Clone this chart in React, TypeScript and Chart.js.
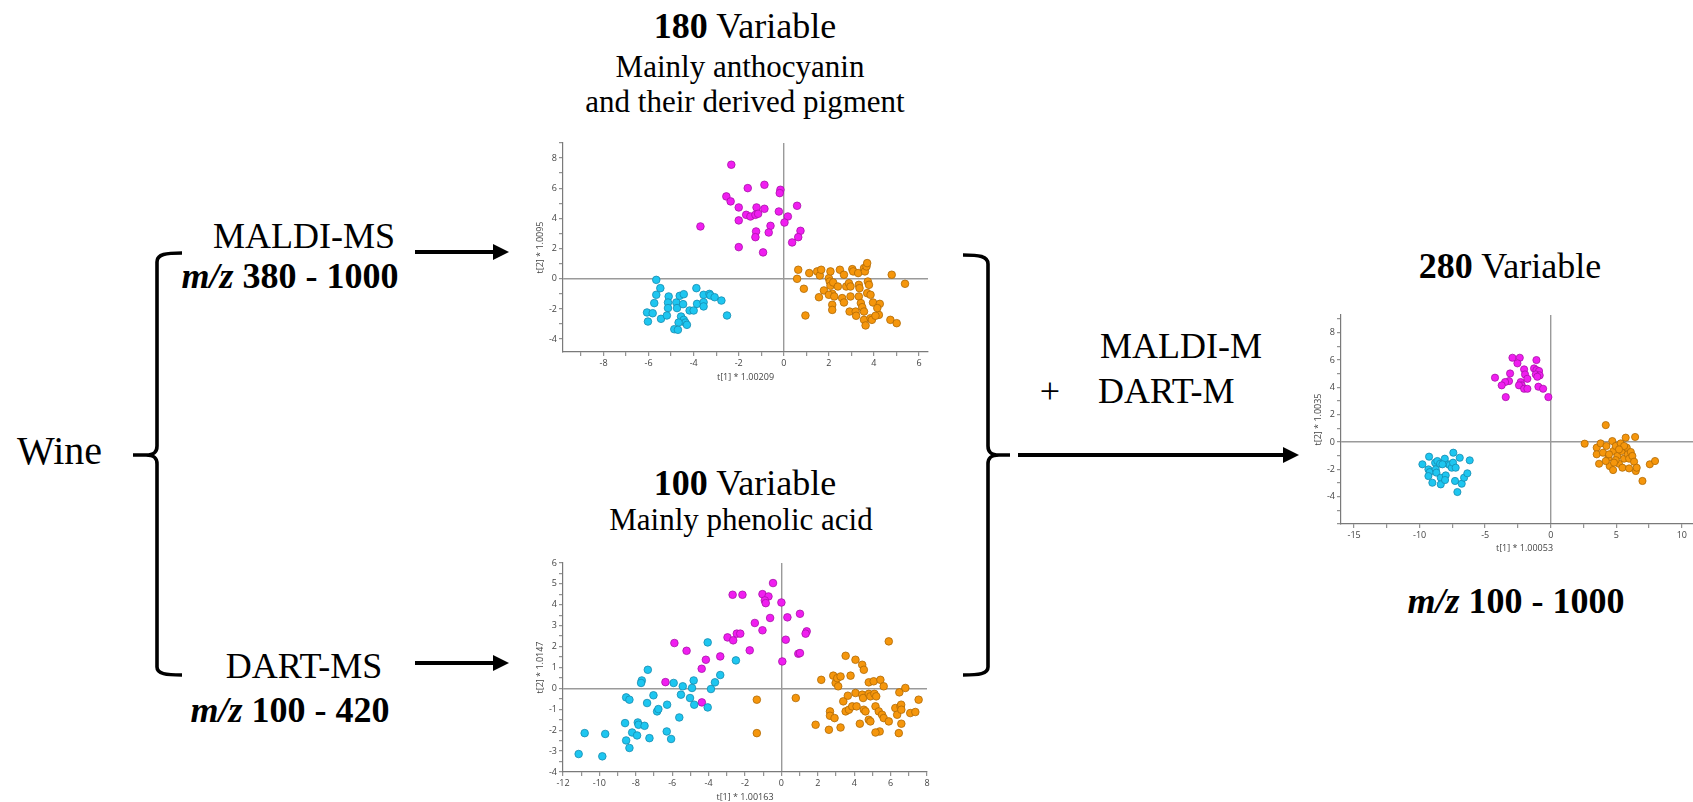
import React, { useEffect, useRef } from 'react';
import { Chart, registerables } from 'chart.js';

Chart.register(...registerables);

type Pt = [number, number];

// ---- MALDI-MS score plot (180 variables) ----
const maldiCyan: Pt[] = [
  [-5.66, -0.07], [-5.48, -0.62], [-5.66, -1.06], [-5.75, -1.61], [-6.07, -2.23], [-5.82, -2.28],
  [-6.03, -2.83], [-5.45, -2.65], [-5.11, -1.17], [-5.14, -1.57], [-5.14, -1.94], [-5.19, -2.43],
  [-4.77, -1.57], [-4.74, -1.94], [-4.62, -1.13], [-4.44, -1.02], [-4.47, -1.68], [-4.56, -2.5],
  [-4.44, -2.72], [-4.37, -2.9], [-4.3, -3.05], [-4.67, -2.9], [-4.86, -3.34], [-4.7, -3.38],
  [-4.18, -2.1], [-4.0, -2.1], [-3.88, -0.62], [-3.85, -1.66], [-3.56, -1.06], [-3.56, -1.55],
  [-3.56, -1.83], [-3.3, -1.0], [-3.26, -1.1], [-3.07, -1.22], [-2.77, -1.44], [-2.52, -2.43],
];
const maldiMagenta: Pt[] = [
  [-2.33, 7.56], [-2.55, 5.46], [-2.36, 5.13], [-1.6, 6.01], [-0.86, 6.23], [-0.15, 5.9],
  [-0.18, 5.68], [-2.0, 4.73], [-1.21, 4.73], [-0.86, 4.64], [-0.22, 4.46], [0.59, 4.84],
  [-1.67, 4.24], [-1.48, 4.13], [-1.26, 4.24], [-1.14, 4.31], [-2.0, 3.87], [0.18, 4.13],
  [0.03, 3.73], [-0.59, 3.51], [-1.23, 3.14], [-1.26, 2.76], [-0.67, 3.07], [0.74, 3.18],
  [0.64, 2.76], [0.37, 2.41], [-2.0, 2.1], [-0.92, 1.75], [-3.7, 3.47],
];
const maldiOrange: Pt[] = [
  [0.64, 0.6], [0.59, 0.0], [0.89, -0.66], [0.96, -2.43], [1.13, 0.38], [1.48, 0.49],
  [1.6, 0.22], [1.66, 0.6], [1.56, -1.22], [1.78, -0.77], [2.0, 0.04], [2.07, 0.49],
  [2.04, -0.18], [2.07, -0.46], [2.19, -0.24], [2.15, -0.99], [2.0, -1.06], [2.24, -1.17],
  [2.15, -1.72], [2.15, -2.06], [2.49, 0.6], [2.67, 0.27], [2.4, -0.51], [2.77, -0.51],
  [2.59, -1.28], [2.67, -1.57], [2.89, -0.29], [2.96, -0.51], [2.96, -1.17], [2.92, -2.17],
  [3.04, 0.64], [3.08, 0.49], [3.19, -2.17], [3.21, -2.45], [3.3, 0.38], [3.33, -0.4],
  [3.36, -0.62], [3.33, -1.17], [3.42, -1.61], [3.48, -1.88], [3.56, 0.71], [3.6, 0.49],
  [3.67, 0.82], [3.7, 1.04], [3.73, -0.18], [3.7, -0.95], [3.85, -1.06], [3.96, -1.57],
  [3.56, -2.17], [3.56, -2.72], [3.63, -3.09], [3.85, -2.61], [3.91, -2.72], [4.22, -2.39],
  [4.26, -1.66], [4.15, -1.94], [4.07, -2.45], [3.78, -0.4], [4.73, -2.72], [4.79, 0.27],
  [5.01, -2.94], [5.38, -0.33],
];
const maldiXLabels = [-8, -6, -4, -2, 0, 2, 4, 6];
const maldiYLabels = [-4, -2, 0, 2, 4, 6, 8];

// ---- DART-MS score plot (100 variables) ----
const dartCyan: Pt[] = [
  [-11.14, -3.14], [-9.84, -3.25], [-10.81, -2.14], [-9.68, -2.18], [-8.35, -2.85], [-8.53, -2.49],
  [-8.2, -2.11], [-7.93, -2.25], [-8.59, -1.66], [-7.89, -1.63], [-7.85, -1.74], [-7.52, -1.79],
  [-7.25, -2.38], [-8.53, -0.43], [-8.35, -0.54], [-7.67, 0.38], [-7.71, 0.26], [-7.34, 0.89],
  [-7.38, -0.7], [-7.03, -0.33], [-6.83, -1.1], [-6.76, -0.99], [-6.28, -0.78], [-6.3, -2.06],
  [-6.06, -2.42], [-5.92, 0.26], [-5.42, 0.1], [-5.52, -0.3], [-5.61, -1.39], [-5.02, -0.46],
  [-4.91, 0.02], [-4.82, 0.38], [-4.79, -0.78], [-4.05, 2.2], [-4.05, -0.91], [-3.87, -0.03],
  [-3.65, 0.29], [-3.36, 0.64], [-2.5, 1.34],
];
const dartMagenta: Pt[] = [
  [-0.46, 5.04], [-2.68, 4.48], [-2.14, 4.48], [-1.04, 4.51], [-0.71, 4.4], [-0.91, 4.21],
  [-0.86, 4.08], [0.0, 4.11], [-0.62, 3.37], [-1.46, 3.13], [0.33, 3.4], [1.02, 3.57],
  [-1.04, 2.78], [1.39, 2.73], [1.33, 2.62], [-2.96, 2.44], [-2.65, 2.3], [-2.45, 2.62],
  [-2.26, 2.62], [0.24, 2.33], [-1.74, 1.82], [-5.88, 2.17], [-5.21, 1.8], [-3.36, 1.53],
  [-4.15, 1.37], [-4.38, 0.94], [0.93, 1.66], [1.02, 1.69], [0.05, 1.29], [-6.37, 0.3],
  [-4.37, -0.67],
];
const dartOrange: Pt[] = [
  [-1.35, -0.54], [-1.35, -2.14], [0.79, -0.46], [1.88, -1.74], [2.19, 0.41], [2.61, -1.98],
  [2.67, -1.1], [2.67, -1.31], [2.85, 0.61], [2.92, -1.42], [2.98, 0.26], [3.07, 0.49],
  [3.12, 0.1], [3.25, 0.57], [3.25, -1.87], [3.4, -0.62], [3.53, 1.56], [3.53, -1.1],
  [3.65, -0.35], [3.71, -1.02], [3.8, 0.61], [3.89, -0.86], [4.07, 1.37], [4.07, -0.22],
  [4.13, -0.86], [4.31, -1.69], [4.44, 1.13], [4.44, -0.3], [4.49, -0.46], [4.53, 0.89],
  [4.53, -1.02], [4.62, -1.1], [4.8, 0.29], [4.8, -0.26], [4.89, -0.38], [4.8, -1.5],
  [4.89, -1.58], [5.07, 0.34], [5.11, -0.26], [5.21, -0.38], [5.17, -0.86], [5.35, -1.1],
  [5.4, -2.06], [5.17, -2.11], [5.44, 0.41], [5.53, -1.26], [5.62, 0.1], [5.62, -1.42],
  [5.9, -1.58], [5.9, 2.25], [6.26, -0.94], [6.36, -1.26], [6.45, -2.14], [6.48, -0.19],
  [6.54, -0.86], [6.58, -0.78], [6.59, -1.02], [6.59, -1.69], [6.81, 0.02], [7.08, -1.18],
  [7.36, -1.13], [7.54, -0.54],
];
const dartXLabels = [-12, -10, -8, -6, -4, -2, 0, 2, 4, 6, 8];
const dartYLabels = [-4, -3, -2, -1, 0, 1, 2, 3, 4, 5, 6];

// ---- Fused MALDI + DART score plot (280 variables) ----
const fusedCyan: Pt[] = [
  [-9.79, -1.63], [-9.28, -1.07], [-9.33, -2.0], [-9.23, -2.2], [-9.33, -2.49], [-9.03, -2.98],
  [-8.82, -1.51], [-8.77, -2.0], [-8.72, -2.24], [-8.65, -1.39], [-8.44, -1.59], [-8.39, -2.61],
  [-8.39, -3.1], [-8.08, -1.22], [-8.01, -2.44], [-8.06, -2.78], [-7.8, -1.63], [-7.7, -1.68],
  [-7.55, -1.88], [-7.45, -1.51], [-7.43, -0.78], [-7.25, -1.88], [-7.3, -2.85], [-7.12, -3.66],
  [-6.94, -1.15], [-6.79, -3.05], [-6.61, -2.61], [-6.36, -2.29], [-6.18, -1.34], [-8.26, -1.63],
];
const fusedMagenta: Pt[] = [
  [-2.92, 6.17], [-2.36, 6.17], [-2.54, 5.76], [-1.09, 6.0], [-2.03, 5.32], [-1.27, 5.39],
  [-1.09, 5.27], [-0.89, 5.2], [-1.96, 4.95], [-1.14, 4.95], [-0.84, 4.88], [-1.02, 4.78],
  [-3.1, 5.02], [-4.25, 4.71], [-3.18, 4.46], [-3.48, 4.39], [-3.74, 4.15], [-2.29, 4.39],
  [-2.21, 4.15], [-2.42, 4.15], [-1.78, 4.63], [-2.03, 3.9], [-1.78, 3.9], [-0.94, 4.05],
  [-0.58, 3.9], [-0.18, 3.29], [-3.43, 3.29],
];
const fusedOrange: Pt[] = [
  [2.59, -0.12], [4.2, 1.24], [3.51, -0.41], [3.51, -0.9], [3.69, -1.59], [3.81, -0.1],
  [3.99, -0.78], [4.25, -0.29], [4.4, -1.15], [4.5, -1.76], [4.7, 0.07], [4.78, -0.66],
  [4.76, -2.05], [4.96, -0.29], [5.09, -1.02], [5.21, -1.59], [5.34, -0.1], [5.42, -0.66],
  [5.47, -1.88], [5.6, -1.22], [5.72, 0.32], [5.8, -0.41], [5.88, -0.9], [5.98, -1.22],
  [6.11, -0.73], [6.23, -1.02], [5.98, -1.93], [6.36, -1.44], [6.44, 0.37], [6.49, -2.12],
  [6.56, -1.88], [7.0, -2.85], [7.56, -1.63], [7.96, -1.39], [4.96, -1.32], [4.45, -0.9],
  [5.6, -0.29], [5.21, -0.54], [4.83, -1.51], [4.2, -1.39],
];
const fusedXLabels = [-15, -10, -5, 0, 5, 10];
const fusedYLabels = [-4, -2, 0, 2, 4, 6, 8];

// Marker colours: fill and outline for the three wine groups
const GROUP_FILL = ['#1ec6f0', '#f01ef0', '#f5960c'];
const GROUP_EDGE = ['#168bb0', '#a812a8', '#b06a05'];

const SERIF = "'Liberation Serif', 'Times New Roman', serif";
const SANS = "'Open Sans', 'Noto Sans', sans-serif";

interface PlotSpec {
  left: number; top: number; width: number; height: number;
  padTop: number; padRight: number; yAxisWidth: number; xAxisHeight: number;
  xMin: number; xMax: number; yMin: number; yMax: number;
  xStep: number; yStep: number; xLabels: number[]; yLabels: number[];
  xTitle: string; yTitle: string; xTitlePad: number; yTitlePad: number;
  radius: number; groups: Pt[][];
}

function stepTicks(min: number, max: number, step: number) {
  const out: { value: number }[] = [];
  const start = Math.ceil(min / step - 1e-9);
  for (let i = start; i * step <= max + 1e-9; i++) {
    out.push({ value: Math.round(i * step * 1000) / 1000 });
  }
  return out;
}

function labelFor(labels: number[]) {
  return (value: number | string) => {
    const v = Number(value);
    return labels.some((l) => Math.abs(l - v) < 1e-6) ? String(v) : '';
  };
}

function axisOptions(spec: PlotSpec, horizontal: boolean) {
  const min = horizontal ? spec.xMin : spec.yMin;
  const max = horizontal ? spec.xMax : spec.yMax;
  const step = horizontal ? spec.xStep : spec.yStep;
  const labels = horizontal ? spec.xLabels : spec.yLabels;
  return {
    type: 'linear' as const,
    position: horizontal ? 'bottom' : 'left',
    min,
    max,
    afterBuildTicks: (scale: any) => {
      scale.ticks = stepTicks(min, max, step);
    },
    afterFit: (scale: any) => {
      if (horizontal) scale.height = spec.xAxisHeight;
      else scale.width = spec.yAxisWidth;
    },
    border: { display: true, color: '#7a7a7a', width: 1.2 },
    grid: {
      drawOnChartArea: true,
      drawTicks: true,
      tickLength: 4,
      tickColor: '#7a7a7a',
      tickWidth: 1,
      lineWidth: 1.4,
      color: (ctx: any) =>
        ctx.tick && Math.abs(ctx.tick.value) < 1e-9 ? '#9a9a9a' : 'rgba(0,0,0,0)',
    },
    ticks: {
      autoSkip: false,
      maxRotation: 0,
      minRotation: 0,
      padding: 2,
      color: '#444',
      font: { family: SANS, size: 9 },
      callback: labelFor(labels),
    },
    title: {
      display: true,
      text: horizontal ? spec.xTitle : spec.yTitle,
      color: '#444',
      font: { family: SANS, size: 9 },
      padding: horizontal
        ? { top: 0, bottom: spec.xTitlePad }
        : { top: spec.yTitlePad, bottom: 0 },
    },
  };
}

function ScorePlot({ spec }: { spec: PlotSpec }) {
  const ref = useRef<HTMLCanvasElement | null>(null);
  useEffect(() => {
    if (!ref.current) return;
    const chart = new Chart(ref.current, {
      type: 'scatter',
      data: {
        datasets: spec.groups.map((pts, i) => ({
          data: pts.map(([x, y]) => ({ x, y })),
          backgroundColor: GROUP_FILL[i],
          borderColor: GROUP_EDGE[i],
          pointRadius: spec.radius,
          pointBorderWidth: 0.8,
        })),
      },
      options: {
        animation: false,
        responsive: false,
        maintainAspectRatio: false,
        events: [],
        layout: { padding: { top: spec.padTop, right: spec.padRight, left: 0, bottom: 0 } },
        plugins: { legend: { display: false }, tooltip: { enabled: false } },
        scales: {
          x: axisOptions(spec, true) as any,
          y: axisOptions(spec, false) as any,
        },
      },
    });
    return () => chart.destroy();
  }, [spec]);
  return (
    <canvas
      ref={ref}
      width={spec.width}
      height={spec.height}
      style={{ position: 'absolute', left: spec.left, top: spec.top, width: spec.width, height: spec.height }}
    />
  );
}

const maldiSpec: PlotSpec = {
  left: 510, top: 133, width: 430, height: 260,
  padTop: 10, padRight: 12, yAxisWidth: 53, xAxisHeight: 41,
  xMin: -9.8, xMax: 6.4, yMin: -4.85, yMax: 9,
  xStep: 1, yStep: 1, xLabels: maldiXLabels, yLabels: maldiYLabels,
  xTitle: 't[1] * 1.00209', yTitle: 't[2] * 1.0095', xTitlePad: 10, yTitlePad: 25,
  radius: 3.8, groups: [maldiCyan, maldiMagenta, maldiOrange],
};

const dartSpec: PlotSpec = {
  left: 510, top: 553, width: 430, height: 257,
  padTop: 10, padRight: 13, yAxisWidth: 53, xAxisHeight: 38,
  xMin: -12, xMax: 8, yMin: -4, yMax: 6,
  xStep: 1, yStep: 0.5, xLabels: dartXLabels, yLabels: dartYLabels,
  xTitle: 't[1] * 1.00163', yTitle: 't[2] * 1.0147', xTitlePad: 7, yTitlePad: 25,
  radius: 3.8, groups: [dartCyan, dartMagenta, dartOrange],
};

const fusedSpec: PlotSpec = {
  left: 1290, top: 305, width: 430, height: 255,
  padTop: 10, padRight: 12, yAxisWidth: 51, xAxisHeight: 36,
  xMin: -16, xMax: 12, yMin: -6, yMax: 9.3,
  xStep: 2.5, yStep: 1, xLabels: fusedXLabels, yLabels: fusedYLabels,
  xTitle: 't[1] * 1.00053', yTitle: 't[2] * 1.0035', xTitlePad: 6, yTitlePad: 23,
  radius: 3.6, groups: [fusedCyan, fusedMagenta, fusedOrange],
};

function Arrow({ x1, x2, y, head = 16, half = 8 }: { x1: number; x2: number; y: number; head?: number; half?: number }) {
  return (
    <g>
      <line x1={x1} y1={y} x2={x2 - head + 2} y2={y} stroke="#000" strokeWidth={4} />
      <polygon points={`${x2 - head},${y - half} ${x2},${y} ${x2 - head},${y + half}`} fill="#000" />
    </g>
  );
}

function Diagram() {
  const big = 36;
  const sub = 31;
  return (
    <svg
      width={1693}
      height={802}
      style={{ position: 'absolute', left: 0, top: 0 }}
      fontFamily={SERIF}
    >
      {/* opening brace */}
      <path
        d="M182 253 C166 253 157 254 157 262 L157 446 C157 452 154 455 146 455 L133 455 M146 455 C154 455 157 458 157 464 L157 667 C157 674 166 675 182 675"
        fill="none" stroke="#000" strokeWidth={3.6}
      />
      {/* closing brace */}
      <path
        d="M963 255 C979 255 988 256 988 264 L988 446 C988 452 991 455 999 455 L1010 455 M999 455 C991 455 988 458 988 464 L988 667 C988 674 979 675 963 675"
        fill="none" stroke="#000" strokeWidth={3.6}
      />

      <Arrow x1={415} x2={509} y={252} />
      <Arrow x1={415} x2={509} y={663} />
      <Arrow x1={1018} x2={1299} y={455} />

      <text x={17} y={464} fontSize={40}>Wine</text>

      <text x={304} y={248} fontSize={big} textAnchor="middle">MALDI-MS</text>
      <text x={290} y={288} fontSize={big} textAnchor="middle" fontWeight="bold">
        <tspan fontStyle="italic">m/z</tspan> 380 - 1000
      </text>

      <text x={304} y={678} fontSize={big} textAnchor="middle">DART-MS</text>
      <text x={290} y={722} fontSize={big} textAnchor="middle" fontWeight="bold">
        <tspan fontStyle="italic">m/z</tspan> 100 - 420
      </text>

      <text x={745} y={38} fontSize={big} textAnchor="middle">
        <tspan fontWeight="bold">180</tspan> Variable
      </text>
      <text x={740} y={77} fontSize={sub} textAnchor="middle">Mainly anthocyanin</text>
      <text x={745} y={112} fontSize={sub} textAnchor="middle">and their derived pigment</text>

      <text x={745} y={495} fontSize={big} textAnchor="middle">
        <tspan fontWeight="bold">100</tspan> Variable
      </text>
      <text x={741} y={530} fontSize={sub} textAnchor="middle">Mainly phenolic acid</text>

      <text x={1100} y={358} fontSize={big}>MALDI-M</text>
      <text x={1050} y={403} fontSize={big} textAnchor="middle">+</text>
      <text x={1098} y={403} fontSize={big}>DART-M</text>

      <text x={1510} y={278} fontSize={big} textAnchor="middle">
        <tspan fontWeight="bold">280</tspan> Variable
      </text>
      <text x={1516} y={613} fontSize={big} textAnchor="middle" fontWeight="bold">
        <tspan fontStyle="italic">m/z</tspan> 100 - 1000
      </text>
    </svg>
  );
}

export default function App() {
  return (
    <div
      style={{
        position: 'fixed', left: 0, top: 0, width: 1693, height: 802,
        overflow: 'hidden', background: '#ffffff',
      }}
    >
      <Diagram />
      <ScorePlot spec={maldiSpec} />
      <ScorePlot spec={dartSpec} />
      <ScorePlot spec={fusedSpec} />
    </div>
  );
}
